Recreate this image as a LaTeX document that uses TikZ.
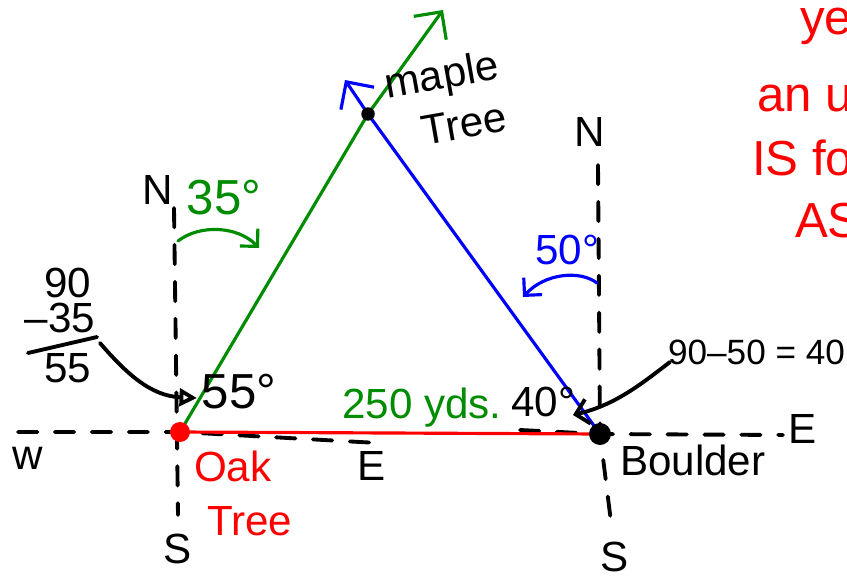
\documentclass[tikz,border=0pt]{standalone}
\usepackage{fontspec}
\setmainfont{Liberation Sans}
\usetikzlibrary{arrows.meta,positioning,calc}
\definecolor{penGreen}{RGB}{0,140,0}
\definecolor{penBlue}{RGB}{0,0,255}
\definecolor{penRed}{RGB}{255,0,0}
\tikzset{
  ink/.style     ={line width=2.2pt,line cap=round,line join=round,black},
  axis/.style    ={ink,dash pattern=on 11pt off 10pt},
  grnline/.style ={line width=1.8pt,line cap=round,line join=round,penGreen},
  bluline/.style ={line width=1.8pt,line cap=round,line join=round,penBlue},
  redline/.style ={line width=1.8pt,line cap=round,penRed},
  markdot/.style ={circle,fill,inner sep=0pt,minimum size=#1},
  barb/.style    ={-{Straight Barb[length=4mm,width=8mm]}},
  smallbarb/.style={-{Straight Barb[length=2.5mm,width=5mm]}},
  opentri/.style ={-{Triangle[open,length=3.5mm,width=3.5mm]}},
  hand/.style    ={font=\fontsize{24}{26}\selectfont,inner sep=1pt},
  bighand/.style ={font=\fontsize{28}{30}\selectfont,inner sep=1pt},
  note/.style    ={font=\fontsize{20}{22}\selectfont,inner sep=1pt},
}

\begin{document}
\begin{tikzpicture}[x=0.02cm,y=-0.02cm]
  \useasboundingbox (0,0) rectangle (847,581);
  \clip (0,0) rectangle (847,581);
  % the three places
  \coordinate (oak) at (180,432);
  \coordinate (boulder) at (600,434);
  \coordinate (maple) at (368,114);
  \coordinate (gtip) at (443,10);
  \coordinate (btip) at (345,80);

  % compass lines at the oak tree
  \node[hand] (oakN) at (158,190) {N};
  \node[hand] (oakS) at (178,549) {S};
  \node[hand] (oakW) at (28,458) {w};
  \node[hand] (oakE) at (372,466) {E};
  \coordinate (oakup) at (174,208);
  \coordinate (oakdown) at (178,515);
  \coordinate (oakleft) at (18,432);
  \coordinate (oakright) at (378,443);
  \draw[axis] (oakup) -- (oakdown);
  \draw[axis] (oakleft) -- (oak) -- (oakright);

  % compass lines at the boulder
  \node[hand] (bN) at (590,132) {N};
  \node[hand] (bS) at (615,557) {S};
  \node[hand] (bE) at (803,429) {E};
  \coordinate (bup) at (598,165);
  \coordinate (bdown) at (612,530);
  \coordinate (bleft) at (520,430);
  \coordinate (bright) at (783,435);
  \draw[axis] (bup) -- (boulder) -- (bdown);
  \draw[axis] (bleft) -- (boulder) -- (bright);

  % bearings
  \draw[grnline,barb] (oak) -- (maple) -- (gtip);
  \draw[bluline,barb] (boulder) -- (maple) -- (btip);
  \draw[redline] (oak) -- (boulder);

  % turning arrows
  \coordinate (g1) at (178,241);
  \coordinate (g2) at (259,248);
  \draw[grnline,smallbarb] (g1) .. controls (200,224) and (238,226) .. (g2);
  \coordinate (b1) at (597,283);
  \coordinate (b2) at (523,297);
  \draw[bluline,smallbarb] (b1) .. controls (580,270) and (545,273) .. (b2);

  % angle labels
  \node[bighand,text=penGreen] (g35) at (224,198) {35°};
  \node[hand,text=penBlue] (b50) at (567,250) {50°};
  \node[bighand] (a55) at (239,392) {55°};
  \node[hand] (a40) at (543,402) {40°};
  \node[hand,text=penGreen] (dist) at (422,408) {250 yds.};

  % working for 55
  \node[hand] (f90) at (68,283) {90};
  \node[hand] (f35) at (60,318) {–35};
  \node[hand] (f55) at (68,368) {55};
  \coordinate (barL) at (28,353);
  \coordinate (barR) at (97,337);
  \draw[ink] (barL) -- (barR);
  \coordinate (c55) at (100,343);
  \coordinate (t55) at (197,398);
  \draw[ink,opentri] (c55) .. controls (125,372) and (150,396) .. (t55);

  % working for 40
  \node[note,anchor=west] (eq) at (666,352) {90–50 = 40};
  \coordinate (c40) at (670,362);
  \coordinate (t40) at (573,415);
  \draw[ink,smallbarb] (c40) .. controls (640,385) and (615,405) .. (t40);

  % place names
  \node[hand,rotate=10] (mapletxt1) at (442,78) {maple};
  \node[hand,rotate=10] (mapletxt2) at (464,124) {Tree};
  \node[hand,text=penRed,anchor=west] (oaktxt1) at (192,466) {Oak};
  \node[hand,text=penRed,anchor=west] (oaktxt2) at (205,521) {Tree};
  \node[hand,anchor=west] (bouldertxt) at (618,460) {Boulder};

  % note cut off at the right
  \node[bighand,text=penRed,anchor=base west] (r1) at (798,35) {ye};
  \node[bighand,text=penRed,anchor=base west] (r2) at (755,112) {an u};
  \node[bighand,text=penRed,anchor=base west] (r3) at (750,175) {IS fo};
  \node[bighand,text=penRed,anchor=base west] (r4) at (793,237) {AS};

  % dots on top
  \node[markdot=0.4cm,penRed] (oakdot) at (oak) {};
  \node[markdot=0.44cm] (boulderdot) at (boulder) {};
  \node[markdot=0.27cm] (mapledot) at (maple) {};
\end{tikzpicture}
\end{document}
